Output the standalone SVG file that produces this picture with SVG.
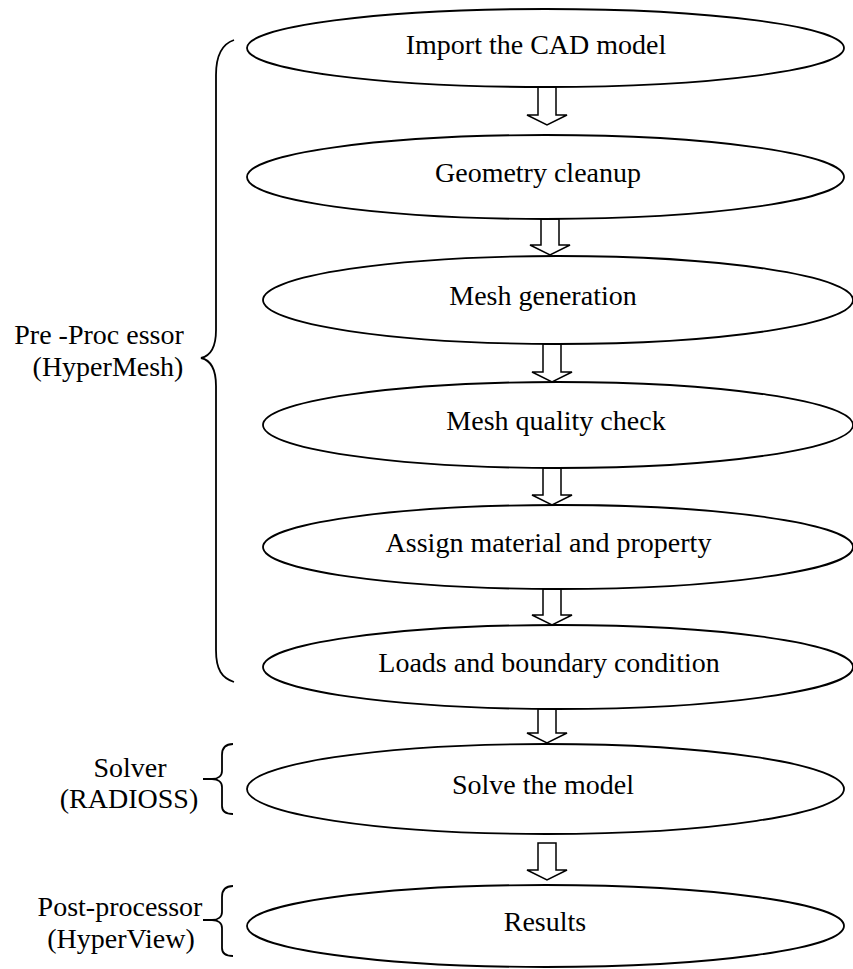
<svg xmlns="http://www.w3.org/2000/svg" width="853" height="969" viewBox="0 0 853 969">
<style>
.node ellipse{fill:#fff;stroke:#000;stroke-width:1.8}
text{font-family:"Liberation Serif","Times New Roman",serif;font-size:28px;fill:#000}
.node text{text-anchor:middle}
.arrow{fill:#fff;stroke:#000;stroke-width:1.5;stroke-linejoin:miter}
.brace{fill:none;stroke:#000;stroke-width:1.8}
</style>
<rect width="853" height="969" fill="#fff"/>
<g id="connectors">
<polygon class="arrow" points="538,87 556,87 556,115 567,115 547,125 527,115 538,115"/>
<polygon class="arrow" points="541,219 559,219 559,245 570,245 550,255 530,245 541,245"/>
<polygon class="arrow" points="543,344 561,344 561,372 572,372 552,382 532,372 543,372"/>
<polygon class="arrow" points="543,468 561,468 561,495 572,495 552,505 532,495 543,495"/>
<polygon class="arrow" points="543,589 561,589 561,615 572,615 552,625 532,615 543,615"/>
<polygon class="arrow" points="538,709 556,709 556,733 567,733 547,743 527,733 538,733"/>
<polygon class="arrow" points="538,843 556,843 556,870 567,870 547,880 527,870 538,870"/>
</g>
<g id="n1" class="node"><ellipse cx="545.5" cy="48" rx="298.5" ry="39"/><text x="536" y="54">Import the CAD model</text></g>
<g id="n2" class="node"><ellipse cx="545.5" cy="177" rx="298.5" ry="42"/><text x="538" y="182">Geometry cleanup</text></g>
<g id="n3" class="node"><ellipse cx="558" cy="300" rx="295" ry="44"/><text x="543" y="305">Mesh generation</text></g>
<g id="n4" class="node"><ellipse cx="558" cy="425" rx="295" ry="43"/><text x="556" y="430">Mesh quality check</text></g>
<g id="n5" class="node"><ellipse cx="558" cy="547" rx="295" ry="42"/><text x="548.5" y="552">Assign material and property</text></g>
<g id="n6" class="node"><ellipse cx="558" cy="667" rx="295" ry="42"/><text x="549" y="672">Loads and boundary condition</text></g>
<g id="n7" class="node"><ellipse cx="545.5" cy="789" rx="298.5" ry="45"/><text x="543" y="794">Solve the model</text></g>
<g id="n8" class="node"><ellipse cx="545.5" cy="926" rx="298.5" ry="41"/><text x="545" y="931">Results</text></g>
<g id="pre">
<path class="brace" d="M234,40 C222,44 216,55 216,75 L216,330 C216,348 210,356 201,358 C210,360 216,368 216,386 L216,650 C216,670 222,678 234,682"/>
<text x="99" y="344" text-anchor="middle">Pre -Proc essor</text>
<text x="108" y="376" text-anchor="middle">(HyperMesh)</text>
</g>
<g id="solver">
<path class="brace" d="M233,744 C226,744 222,748 222,755 L222,771 C222,776 218,779 212,779 L203,779 M212,779 C218,779 222,782 222,787 L222,806 C222,812 226,814 233,814"/>
<text x="130" y="777" text-anchor="middle">Solver</text>
<text x="129" y="808" text-anchor="middle">(RADIOSS)</text>
</g>
<g id="post">
<path class="brace" d="M233,886 C226,886 222,890 222,897 L222,912 C222,917 218,920 212,920 L203,920 M212,920 C218,920 222,923 222,928 L222,948 C222,954 226,956 233,956"/>
<text x="120" y="916" text-anchor="middle">Post-processor</text>
<text x="121" y="948" text-anchor="middle">(HyperView)</text>
</g>
</svg>
